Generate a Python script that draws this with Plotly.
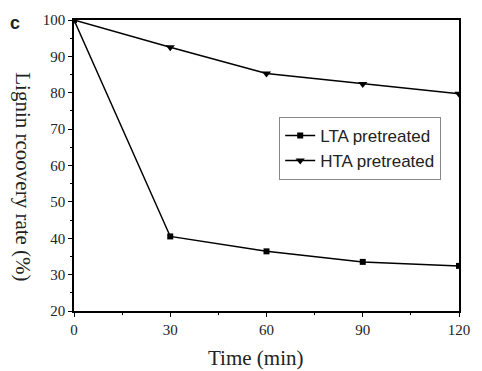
import plotly.graph_objects as go

time_min = [0, 30, 60, 90, 120]
lta = [100, 40.5, 36.4, 33.5, 32.4]
hta = [100, 92.5, 85.3, 82.4, 79.7]
x_ticks = [0, 30, 60, 90, 120]
y_ticks = [20, 30, 40, 50, 60, 70, 80, 90, 100]

fig = go.Figure()
fig.add_trace(go.Scatter(x=time_min, y=lta, mode="lines+markers", name="LTA pretreated",
                         line=dict(color="black", width=1.5),
                         marker=dict(symbol="square", size=6, color="black")))
fig.add_trace(go.Scatter(x=time_min, y=hta, mode="lines+markers", name="HTA pretreated",
                         line=dict(color="black", width=1.5),
                         marker=dict(symbol="triangle-down", size=8, color="black")))

axis_common = dict(showline=True, linecolor="black", linewidth=1.5, mirror=True,
                   ticks="outside", ticklen=4, tickcolor="black", tickwidth=1.2,
                   showgrid=False, zeroline=False,
                   tickfont=dict(family="Liberation Serif", size=15, color="#222"))

fig.update_xaxes(range=[0, 120], tickvals=x_ticks,
                 minor=dict(dtick=15, ticks="outside", ticklen=2, tickcolor="black"),
                 **axis_common)
fig.update_yaxes(range=[20, 100], tickvals=y_ticks,
                 minor=dict(dtick=5, ticks="outside", ticklen=2, tickcolor="black"),
                 **axis_common)

fig.add_annotation(text="Time (min)", xref="paper", yref="paper", x=0.472, y=0,
                   yshift=-47, xanchor="center", yanchor="middle", showarrow=False,
                   font=dict(family="Liberation Serif", size=21, color="#222"))
fig.add_annotation(text="Lignin rcoovery rate (%)", xref="paper", yref="paper", x=0, y=0.463,
                   xshift=-51, xanchor="center", yanchor="middle", showarrow=False, textangle=90,
                   font=dict(family="Liberation Serif", size=21, color="#222"))
fig.add_annotation(text="<b>c</b>", xref="paper", yref="paper", x=0, y=1,
                   xshift=-59, yshift=-3, xanchor="center", yanchor="middle", showarrow=False,
                   font=dict(family="Liberation Sans", size=18, color="#222"))

fig.update_layout(
    width=482, height=371, autosize=False,
    margin=dict(l=74, r=16, t=17, b=60),
    paper_bgcolor="white", plot_bgcolor="white",
    legend=dict(x=0.533, y=0.667, xanchor="left", yanchor="top",
                bordercolor="#888", borderwidth=1, bgcolor="white",
                font=dict(family="Liberation Sans", size=17, color="#222"),
                itemwidth=30, tracegroupgap=0),
    showlegend=True,
)

fig.write_html("out.html", config={"displayModeBar": False, "responsive": False},
               default_width="482px", default_height="371px",
               post_script="document.body.style.margin='0';document.body.style.padding='0';document.body.style.overflow='hidden';")
